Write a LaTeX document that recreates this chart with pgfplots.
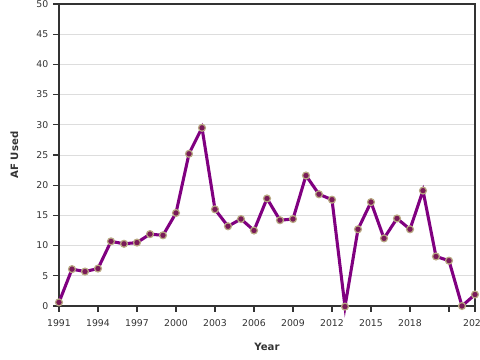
\documentclass[border=0pt]{standalone}
\usepackage{fontspec}
\setmainfont{DejaVu Sans}
\usepackage{pgfplots}
\pgfplotsset{compat=1.18}
\definecolor{lineP}{HTML}{800080}
\definecolor{markF}{HTML}{7A1A58}
\definecolor{markE}{HTML}{B8A882}
\definecolor{spine}{HTML}{333333}
\definecolor{gridc}{HTML}{DDDDDD}
\begin{document}
\begin{tikzpicture}
\begin{axis}[
  at={(44.25pt,40.5pt)}, anchor=south west,
  scale only axis, width=312pt, height=226.5pt,
  xmin=1991, xmax=2023, ymin=0, ymax=50,
  clip=false,
  axis line style={spine, line width=1.2pt},
  xtick={1991,1994,1997,2000,2003,2006,2009,2012,2015,2018,2021,2023},
  xticklabels={1991,1994,1997,2000,2003,2006,2009,2012,2015,2018,,2023},
  ytick={0,5,...,50},
  tick style={spine, line width=0.8pt},
  tick align=outside, major tick length=4.5pt,
  xtick pos=bottom, ytick pos=left,
  ymajorgrids, grid style={gridc, line width=0.6pt},
  ticklabel style={font=\fontsize{7}{8}\selectfont, text=spine},
  xticklabel style={yshift=-2pt},
  /pgf/number format/assume math mode=true,
  xlabel={\textbf{Year}}, ylabel={\textbf{AF Used}},
  every axis x label/.style={at={(axis description cs:0.5,0)}, anchor=center, yshift=-30.5pt, font=\fontsize{7.6}{9}\selectfont, text=spine},
  every axis y label/.style={at={(axis description cs:0,0.5)}, rotate=90, anchor=center, yshift=33.5pt, font=\fontsize{7.6}{9}\selectfont, text=spine},
]
\addplot[lineP, line width=2.3pt, mark=*, mark size=2.6pt,
  mark options={fill=markF, draw=markE, line width=0.9pt}]
coordinates {
(1991,0.6) (1992,6.1) (1993,5.7) (1994,6.2) (1995,10.7) (1996,10.3)
(1997,10.5) (1998,11.9) (1999,11.7) (2000,15.4) (2001,25.2) (2002,29.5)
(2003,16.0) (2004,13.2) (2005,14.4) (2006,12.5) (2007,17.8) (2008,14.2)
(2009,14.4) (2010,21.6) (2011,18.5) (2012,17.6) (2013,-0.1) (2014,12.7)
(2015,17.2) (2016,11.2) (2017,14.5) (2018,12.7) (2019,19.1) (2020,8.2)
(2021,7.5) (2022,0.0) (2023,1.9)
};
\end{axis}
\pgfresetboundingbox
\path (0,0) rectangle (360pt,270pt);
\end{tikzpicture}
\end{document}
